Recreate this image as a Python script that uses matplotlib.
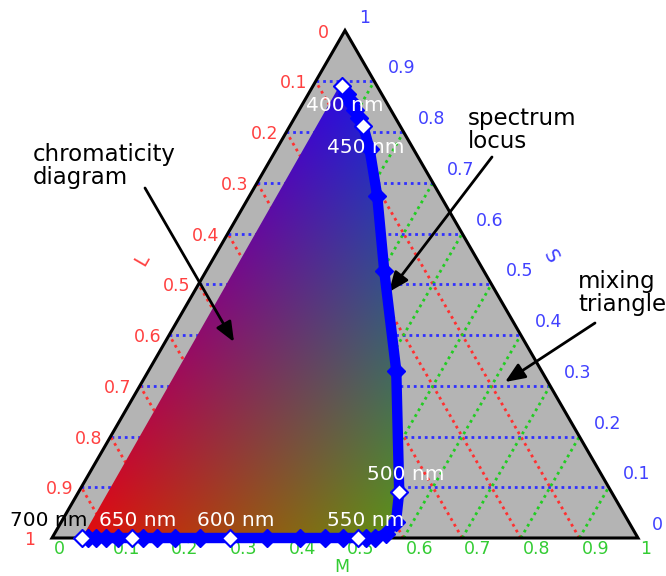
import numpy as np
import matplotlib.pyplot as plt
from matplotlib.patches import Polygon

# spectrum locus in LMS chromaticity coordinates
wavelength = [390, 400, 410, 420, 430, 440, 450, 460, 470, 480, 490, 500, 510, 520, 530,
              540, 550, 560, 570, 580, 590, 600, 610, 620, 630, 640, 650, 660, 670, 680, 690, 700]
l_coord = [0.050, 0.060, 0.059, 0.060, 0.061, 0.062, 0.063, 0.075, 0.108, 0.170, 0.248, 0.362,
           0.397, 0.426, 0.449, 0.465, 0.478, 0.503, 0.534, 0.577, 0.633, 0.696, 0.747, 0.790,
           0.821, 0.845, 0.863, 0.887, 0.908, 0.925, 0.939, 0.949]
m_coord = [0.045, 0.049, 0.066, 0.081, 0.095, 0.110, 0.125, 0.159, 0.218, 0.304, 0.423, 0.547,
           0.571, 0.566, 0.551, 0.535, 0.522, 0.497, 0.466, 0.423, 0.367, 0.304, 0.253, 0.210,
           0.179, 0.155, 0.137, 0.113, 0.092, 0.075, 0.061, 0.051]
s_coord = [0.905, 0.891, 0.875, 0.859, 0.844, 0.828, 0.812, 0.766, 0.674, 0.526, 0.329, 0.091,
           0.032, 0.008, 0.000, 0.000, 0.000, 0.000, 0.000, 0.000, 0.000, 0.000, 0.000, 0.000,
           0.000, 0.000, 0.000, 0.000, 0.000, 0.000, 0.000, 0.000]

marked_nm = [400, 450, 500, 550, 600, 650, 700]
grid_values = [0.1, 0.2, 0.3, 0.4, 0.5, 0.6, 0.7, 0.8, 0.9]
tick_values = [0, 0.1, 0.2, 0.3, 0.4, 0.5, 0.6, 0.7, 0.8, 0.9, 1]
tick_labels = ['0', '0.1', '0.2', '0.3', '0.4', '0.5', '0.6', '0.7', '0.8', '0.9', '1']

H = np.sqrt(3) / 2
RED = '#ff4040'
GREEN = '#33cc33'
BLUE = '#4040ff'


def to_xy(l, m, s):
    m = np.asarray(m, dtype=float)
    s = np.asarray(s, dtype=float)
    return m + s / 2, s * H


def px(x, y):
    # layout helper: picture pixels -> axes units (triangle side = 586 px)
    return (x - 52) / 586, (538 - y) / 586


fig = plt.figure(figsize=(6.66, 5.76), dpi=100)
ax = fig.add_axes([0, 0, 1, 1])

# mixing triangle
corners = np.column_stack(to_xy([1, 0, 0], [0, 1, 0], [0, 0, 1]))
ax.add_patch(Polygon(corners, closed=True, facecolor='#b4b4b4', edgecolor='none', zorder=1))

# dotted grid
dots = (0, (1, 1.4))
for v in grid_values:
    x, y = to_xy([1 - v, 0], [0, 1 - v], [v, v])
    ax.plot(x, y, color='#3030ff', lw=2, linestyle=dots, zorder=2)
    x, y = to_xy([v, v], [1 - v, 0], [0, 1 - v])
    ax.plot(x, y, color='#ff3030', lw=2, linestyle=dots, zorder=2)
    x, y = to_xy([1 - v, 0], [v, v], [0, 1 - v])
    ax.plot(x, y, color='#22cc22', lw=2, linestyle=dots, zorder=2)

# chromaticity diagram: colour field clipped to the spectrum locus
nx, ny = 600, 520
X, Y = np.meshgrid(np.linspace(0, 1, nx), np.linspace(0, H, ny))
S = Y / H
M = X - S / 2
L = 1 - M - S
c_red = np.array([240, 0, 10])
c_green = np.array([-10, 250, 30])
c_blue = np.array([30, 0, 250])
rgb = L[..., None] * c_red + M[..., None] * c_green + S[..., None] * c_blue
rgb = np.clip(rgb / 255, 0, 1)
im = ax.imshow(rgb, origin='lower', extent=(0, 1, 0, H), interpolation='bilinear',
               aspect='auto', zorder=3)
lx, ly = to_xy(l_coord, m_coord, s_coord)
locus_patch = Polygon(np.column_stack([lx, ly]), closed=True, transform=ax.transData)
im.set_clip_path(locus_patch)

# triangle outline
ax.add_patch(Polygon(corners, closed=True, fill=False, edgecolor='black', lw=2.2,
                     joinstyle='miter', zorder=4))

# spectrum locus (400 nm onwards)
start = wavelength.index(400)
ax.plot(lx[start:], ly[start:], color='blue', lw=7.5, marker='D', ms=9,
        solid_joinstyle='round', solid_capstyle='round', zorder=5)

# wavelength markers and labels
label_offsets = {400: (3, -20), 450: (3, -22), 500: (7, 17), 550: (8, 18),
                 600: (6, 18), 650: (5, 18), 700: (-33, 18)}
for nm in marked_nm:
    i = wavelength.index(nm)
    ax.plot(lx[i], ly[i], marker='D', ms=7.5, color='white', mec='none', zorder=6)
    ax.annotate(f'{nm} nm', xy=(lx[i], ly[i]), xytext=label_offsets[nm],
                textcoords='offset pixels', ha='center', va='center', fontsize=14.5,
                color='black' if nm == 700 else 'white', zorder=7)

# tick labels on the three sides
for v, lab in zip(tick_values, tick_labels):
    # L on the left side
    x, y = to_xy(v, 0, 1 - v)
    ax.annotate(lab, xy=(x, y), xytext=(-22, -2), textcoords='offset pixels',
                ha='center', va='center', fontsize=12.5, color=RED)
    # M along the bottom
    x, y = to_xy(1 - v, v, 0)
    ax.annotate(lab, xy=(x, y), xytext=(2, -11), textcoords='offset pixels',
                ha='left', va='center', fontsize=12.5, color=GREEN)
    # S on the right side
    x, y = to_xy(0, 1 - v, v)
    ax.annotate(lab, xy=(x, y), xytext=(14, 13), textcoords='offset pixels',
                ha='left', va='center', fontsize=12.5, color=BLUE)

ax.text(*px(142, 260), 'L', color=RED, fontsize=14, rotation=60, ha='center', va='center')
ax.text(*px(551, 257), 'S', color=BLUE, fontsize=14, rotation=-60, ha='center', va='center')
ax.text(*px(342, 572), 'M', color=GREEN, fontsize=12.5, ha='center', va='baseline')

# annotations
arrow = dict(arrowstyle='-|>,head_length=0.6,head_width=0.25', lw=2, color='black',
             mutation_scale=20, shrinkA=0, shrinkB=0)
ax.text(*px(33, 166), 'chromaticity\ndiagram', fontsize=16.5, ha='left', va='center',
        linespacing=0.95)
ax.annotate('', xy=px(234, 342), xytext=px(145, 188), arrowprops=arrow)
ax.text(*px(468, 130), 'spectrum\nlocus', fontsize=16.5, ha='left', va='center',
        linespacing=0.95)
ax.annotate('', xy=px(389, 292), xytext=px(492, 157), arrowprops=arrow)
ax.text(*px(578, 293), 'mixing\ntriangle', fontsize=16.5, ha='left', va='center',
        linespacing=0.95)
ax.annotate('', xy=px(505, 382), xytext=px(595, 323), arrowprops=arrow)

ax.set_xlim(-52 / 586, 614 / 586)
ax.set_ylim(-38 / 586, 538 / 586)
ax.axis('off')

plt.savefig('out.png', dpi=100)
